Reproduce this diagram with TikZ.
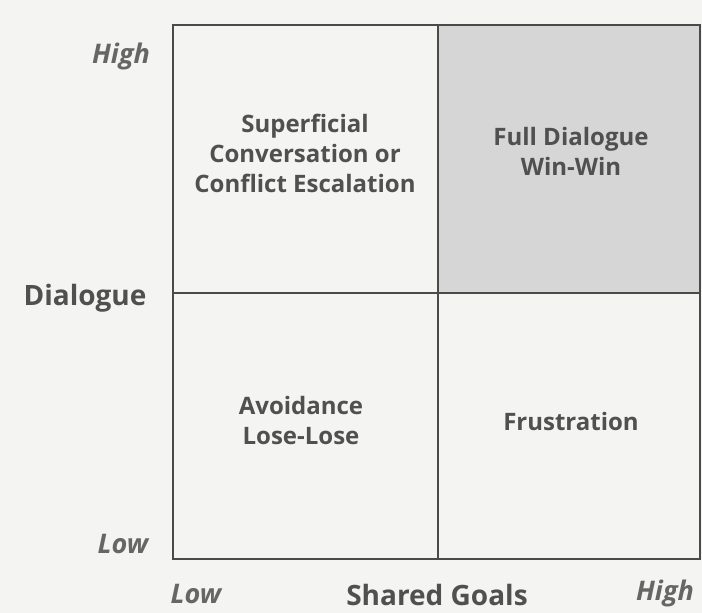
\documentclass[tikz,border=0pt]{standalone}
\usepackage{fontspec}
\setmainfont{Open Sans}
\definecolor{paper}{HTML}{F4F4F2}
\definecolor{ink}{HTML}{4A4A4A}
\definecolor{labelink}{HTML}{505050}
\definecolor{axisink}{HTML}{666666}
\definecolor{winshade}{HTML}{D6D6D6}
\begin{document}
\begin{tikzpicture}[x=1pt,y=-1pt,
  grid/.style={draw=ink,line width=2pt},
  quadlabel/.style={font=\fontsize{24}{30}\selectfont\bfseries,text=labelink,align=center,inner sep=0pt},
  axislabel/.style={font=\fontsize{28}{30}\selectfont\bfseries,text=labelink,inner sep=0pt},
  levellabel/.style={font=\fontsize{27}{30}\selectfont\bfseries\itshape,text=axisink,inner sep=0pt}]
  % page background
  \fill[paper] (0,0) rectangle (702,613);
  \useasboundingbox (0,0) rectangle (702,613);
  % shaded high/high quadrant
  \fill[winshade] (438,25) rectangle (700,293);
  % corners of the grid
  \coordinate (tl) at (173,25);
  \coordinate (tr) at (700,25);
  \coordinate (bl) at (173,559);
  \coordinate (br) at (700,559);
  \coordinate (ml) at (173,293);
  \coordinate (mr) at (700,293);
  \coordinate (mt) at (438,25);
  \coordinate (mb) at (438,559);
  \draw[grid] (tl) rectangle (br);
  \draw[grid] (ml) -- (mr);
  \draw[grid] (mt) -- (mb);
  % quadrant texts
  \node[quadlabel] (q1) at (305,153) {Superficial\\Conversation or\\Conflict Escalation};
  \node[quadlabel] (q2) at (571,151) {Full Dialogue\\Win-Win};
  \node[quadlabel] (q3) at (301,420) {Avoidance\\Lose-Lose};
  \node[quadlabel] (q4) at (571,421) {Frustration};
  % axis texts
  \node[axislabel] (ydim) at (85,298) {Dialogue};
  \node[axislabel] (xdim) at (437,595) {Shared Goals};
  \node[levellabel] (yhigh) at (121,56) {High};
  \node[levellabel] (ylow) at (123,544) {Low};
  \node[levellabel] (xlow) at (196,594) {Low};
  \node[levellabel] (xhigh) at (665,593) {High};
\end{tikzpicture}
\end{document}
